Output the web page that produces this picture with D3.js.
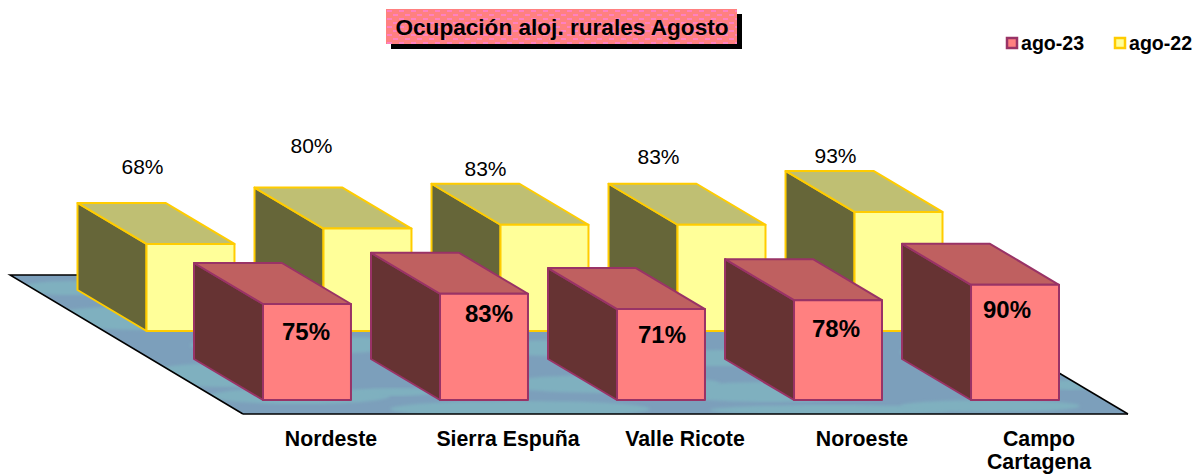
<!DOCTYPE html>
<html>
<head>
<meta charset="utf-8">
<style>
    html, body { margin: 0; padding: 0; background: #fff; }
    svg { display: block; }
    text { font-family: "Liberation Sans", Arial, sans-serif; fill: #000; }
</style>
<script src="https://cdn.jsdelivr.net/npm/d3@7/dist/d3.min.js"></script>
</head>
<body>
<div id="chart"></div>
<script>
const categories = ['Nordeste', 'Sierra Espuña', 'Valle Ricote', 'Noroeste', 'Campo Cartagena'];
const ago_23 = [75, 83, 71, 78, 90];
const ago_22 = [68, 80, 83, 83, 93];
const series_names = ['ago-23', 'ago-22'];
const title = 'Ocupación aloj. rurales Agosto';

// hand placed value labels, offset from the top centre of the front face
const nudge_23 = [[-1, 36], [5, 28], [1, 34], [-2, 37], [-8, 33]];
const nudge_22 = [[-48, -70], [-56, -76], [-59, -49], [-63, -61], [-63, -49]];

// teal blotches of the floor texture: cx, cy, rx, ry
const blotches = [
    [70, 288, 50, 7], [150, 318, 110, 12], [300, 345, 110, 9], [225, 375, 80, 12],
    [300, 396, 90, 8], [395, 392, 40, 4], [520, 409, 130, 8], [610, 384, 110, 9],
    [570, 348, 90, 8], [720, 358, 80, 8], [770, 392, 100, 10], [830, 410, 120, 5],
    [990, 406, 90, 6], [1070, 385, 25, 5], [440, 345, 50, 5], [960, 352, 60, 8]
];

const chart_width = 1195;
const chart_height = 475;

const pct_height = 1.28;
const base_23 = 400;
const base_22 = 331;
const shift_22 = -116.5;
const depth_x = -69;
const depth_y = -41;

const svg = d3.select('#chart')
    .append('svg')
    .attr('width', chart_width)
    .attr('height', chart_height);

const defs = svg.append('defs');

// Title fill
const title_pattern = defs.append('pattern')
    .attr('id', 'title_fill')
    .attr('patternUnits', 'userSpaceOnUse')
    .attr('x', 386)
    .attr('y', 9)
    .attr('width', 12)
    .attr('height', 8);
title_pattern.append('rect').attr('width', 12).attr('height', 8).attr('fill', '#ff8080');
title_pattern.append('rect').attr('x', 1).attr('y', 1).attr('width', 5).attr('height', 2).attr('fill', '#ff80c0');
title_pattern.append('rect').attr('x', 7).attr('y', 5).attr('width', 5).attr('height', 2).attr('fill', '#ff80c0');

defs.append('filter')
    .attr('id', 'soft')
    .append('feGaussianBlur')
    .attr('stdDeviation', 1.5);

// Create Scales
const x_scale = d3.scaleBand()
    .domain(categories)
    .range([263, 1059])
    .paddingInner(0.503)
    .paddingOuter(0);

const y_height = d3.scaleLinear()
    .domain([0, 100])
    .range([0, 100 * pct_height]);

// Floor
const floor_points = [[10, 275], [895, 275], [1128, 414], [243, 414]];
const floor_path = 'M' + floor_points.join('L') + 'Z';

defs.append('clipPath')
    .attr('id', 'floor_clip')
    .append('path')
    .attr('d', floor_path);

svg.append('path')
    .attr('d', floor_path)
    .attr('fill', '#7c9fbb');

svg.append('g')
    .attr('clip-path', 'url(#floor_clip)')
    .selectAll('ellipse')
    .data(blotches)
    .enter()
    .append('ellipse')
    .attr('cx', d => d[0])
    .attr('cy', d => d[1])
    .attr('rx', d => d[2])
    .attr('ry', d => d[3])
    .attr('fill', '#7fb0bf')
    .attr('filter', 'url(#soft)');

svg.append('path')
    .attr('d', d3.line()([floor_points[3], floor_points[0], [90, 275]]))
    .attr('fill', 'none')
    .attr('stroke', '#000')
    .attr('stroke-width', 1.5);
svg.append('path')
    .attr('d', d3.line()([floor_points[2], floor_points[3]]))
    .attr('fill', 'none')
    .attr('stroke', '#000')
    .attr('stroke-width', 1.5);
svg.append('path')
    .attr('d', d3.line()([floor_points[2], [1059, 373]]))
    .attr('fill', 'none')
    .attr('stroke', '#000')
    .attr('stroke-width', 1.5);

// Bars
function draw_bars(values, base, shift, colors) {
    const w = x_scale.bandwidth();
    const bars = svg.append('g')
        .attr('stroke', colors.stroke)
        .attr('stroke-width', 2)
        .attr('stroke-linejoin', 'round')
        .selectAll('g')
        .data(values)
        .enter()
        .append('g')
        .attr('transform', (d, i) => `translate(${x_scale(categories[i]) + shift}, ${base})`);

    // left side
    bars.append('path')
        .attr('fill', colors.side)
        .attr('d', d => {
            const h = y_height(d);
            return d3.line()([[0, 0], [0, -h], [depth_x, -h + depth_y], [depth_x, depth_y]]) + 'Z';
        });
    // top
    bars.append('path')
        .attr('fill', colors.top)
        .attr('d', d => {
            const h = y_height(d);
            return d3.line()([[0, -h], [w, -h], [w + depth_x, -h + depth_y], [depth_x, -h + depth_y]]) + 'Z';
        });
    // front
    bars.append('rect')
        .attr('fill', colors.front)
        .attr('width', w)
        .attr('y', d => -y_height(d))
        .attr('height', d => y_height(d));
}

draw_bars(ago_22, base_22, shift_22, { front: '#ffff99', top: '#bfbf73', side: '#666639', stroke: '#ffcc00' });
draw_bars(ago_23, base_23, 0, { front: '#ff8080', top: '#bf6060', side: '#663333', stroke: '#993366' });

// Value labels
function draw_labels(values, nudges, base, shift, size, weight) {
    svg.append('g')
        .selectAll('text')
        .data(values)
        .enter()
        .append('text')
        .text(d => d + '%')
        .attr('x', (d, i) => x_scale(categories[i]) + x_scale.bandwidth() / 2 + shift + nudges[i][0])
        .attr('y', (d, i) => base - y_height(d) + nudges[i][1])
        .attr('text-anchor', 'middle')
        .attr('font-size', size)
        .attr('font-weight', weight);
}

draw_labels(ago_22, nudge_22, base_22, shift_22, 21, 'normal');
draw_labels(ago_23, nudge_23, base_23, 0, 24, 'bold');

// Create Axis
const x_axis = d3.axisBottom(x_scale).tickSize(0).tickPadding(0);
const axis_g = svg.append('g')
    .attr('transform', `translate(24, 431)`)
    .call(x_axis);
axis_g.select('.domain').remove();
axis_g.selectAll('text')
    .style('font-family', '"Liberation Sans", Arial, sans-serif')
    .attr('font-size', 21.3)
    .attr('font-weight', 'bold')
    .attr('dy', 15)
    .each(function (d) {
        // the last name is too long for one line
        if (d !== 'Campo Cartagena') return;
        const t = d3.select(this).text(null);
        d.split(' ').forEach((word, i) => {
            t.append('tspan')
                .attr('x', 0)
                .attr('dy', i ? 23 : 15)
                .text(word);
        });
    });

// Title
svg.append('rect').attr('x', 391).attr('y', 14).attr('width', 351).attr('height', 35).attr('fill', '#000');
svg.append('rect').attr('x', 386).attr('y', 9).attr('width', 351).attr('height', 35).attr('fill', 'url(#title_fill)');
svg.append('text')
    .text(title)
    .attr('x', 562)
    .attr('y', 35)
    .attr('text-anchor', 'middle')
    .attr('font-size', 22.6)
    .attr('font-weight', 'bold');

// Legend
const legend = svg.append('g')
    .selectAll('g')
    .data(series_names)
    .enter()
    .append('g')
    .attr('transform', (d, i) => `translate(${1007 + i * 108}, 38)`);

legend.append('rect')
    .attr('width', 10)
    .attr('height', 10)
    .attr('stroke-width', 2.5)
    .attr('fill', (d, i) => i ? '#ffff99' : '#ff8080')
    .attr('stroke', (d, i) => i ? '#ffcc00' : '#993366');

legend.append('text')
    .text(d => d)
    .attr('x', 14)
    .attr('y', 12)
    .attr('font-size', 19.6)
    .attr('font-weight', 'bold');
</script>
</body>
</html>
